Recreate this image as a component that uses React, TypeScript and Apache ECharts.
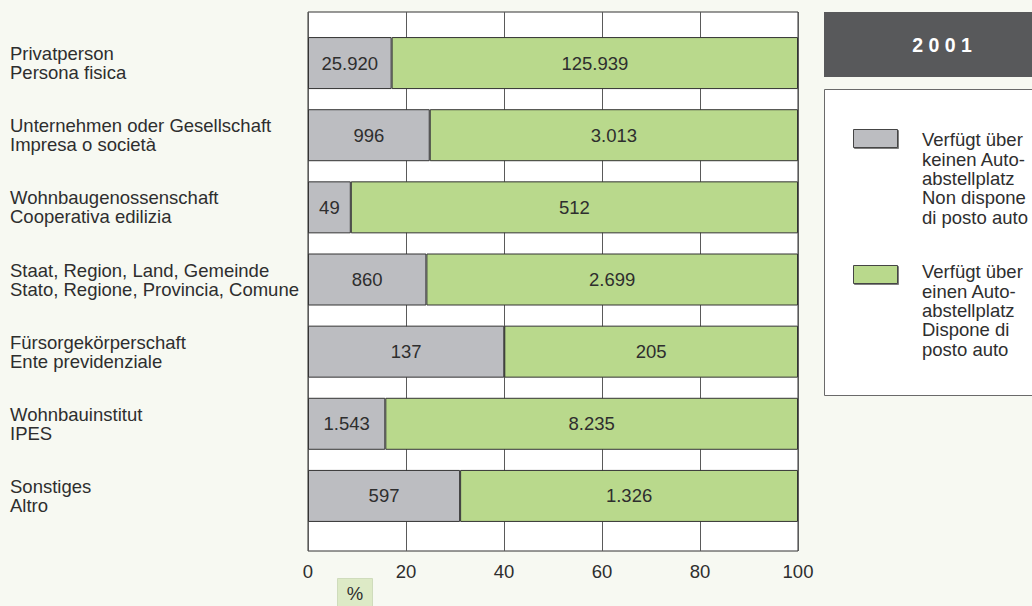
import React, { useEffect, useRef } from "react";
import * as echarts from "echarts";

const categories = [
  "Privatperson\nPersona fisica",
  "Unternehmen oder Gesellschaft\nImpresa o società",
  "Wohnbaugenossenschaft\nCooperativa edilizia",
  "Staat, Region, Land, Gemeinde\nStato, Regione, Provincia, Comune",
  "Fürsorgekörperschaft\nEnte previdenziale",
  "Wohnbauinstitut\nIPES",
  "Sonstiges\nAltro",
];
const withoutParking = [25920, 996, 49, 860, 137, 1543, 597];
const withParking = [125939, 3013, 512, 2699, 205, 8235, 1326];
const xTicks = [0, 20, 40, 60, 80, 100];
const seriesNames = [
  "Verfügt über\nkeinen Auto-\nabstellplatz\nNon dispone\ndi posto auto",
  "Verfügt über\neinen Auto-\nabstellplatz\nDispone di\nposto auto",
];
const yearLabel = "2 0 0 1";
const unitLabel = "%";

const GREY = "#bcbdc1";
const GREEN = "#b9d98c";
const TEXT = "#2e2e2e";
const FONT = "'Liberation Sans', Arial, Helvetica, sans-serif";
const FS = 18.5;

const fmt = (v: number) => String(v).replace(/\B(?=(\d{3})+(?!\d))/g, ".");

export default function App() {
  const ref = useRef<HTMLDivElement>(null);
  useEffect(() => {
    if (!ref.current) return;
    const chart = echarts.init(ref.current, null, { renderer: "svg" });
    const totals = withoutParking.map((v, i) => v + withParking[i]);
    const pctA = withoutParking.map((v, i) => (v / totals[i]) * 100);
    const pctB = withParking.map((v, i) => (v / totals[i]) * 100);
    const labelCommon = {
      show: true,
      position: "inside" as const,
      fontSize: FS,
      color: TEXT,
      fontFamily: FONT,
    };
    chart.setOption({
      animation: false,
      backgroundColor: "#f7f9f2",
      textStyle: { fontFamily: FONT },
      grid: [
        {
          left: 308,
          top: 12,
          width: 490,
          height: 539,
          show: true,
          backgroundColor: "#ffffff",
          borderColor: "#333333",
          borderWidth: 1,
        },
        { left: 308, top: 27, width: 490, height: 505 },
      ],
      xAxis: [
        {
          gridIndex: 0,
          type: "value",
          min: xTicks[0],
          max: xTicks[xTicks.length - 1],
          interval: 20,
          axisLine: { show: false },
          axisTick: { show: false },
          splitLine: { show: true, lineStyle: { color: "#5a5a5a", width: 1 } },
          axisLabel: { fontSize: FS, color: TEXT, margin: 11, fontFamily: FONT },
        },
        {
          gridIndex: 1,
          type: "value",
          min: 0,
          max: 100,
          show: false,
        },
      ],
      yAxis: [
        { gridIndex: 0, type: "value", show: false },
        {
          gridIndex: 1,
          type: "category",
          inverse: true,
          data: categories,
          axisLine: { show: false },
          axisTick: { show: false },
          axisLabel: {
            align: "left",
            margin: 298,
            fontSize: FS,
            lineHeight: 19,
            color: TEXT,
            fontFamily: FONT,
          },
        },
      ],
      series: [
        {
          name: seriesNames[0],
          type: "bar",
          xAxisIndex: 1,
          yAxisIndex: 1,
          stack: "total",
          barWidth: 52,
          data: pctA,
          itemStyle: { color: GREY, borderColor: "#333333", borderWidth: 1 },
          label: { ...labelCommon, formatter: (p: any) => fmt(withoutParking[p.dataIndex]) },
        },
        {
          name: seriesNames[1],
          type: "bar",
          xAxisIndex: 1,
          yAxisIndex: 1,
          stack: "total",
          barWidth: 52,
          data: pctB,
          itemStyle: { color: GREEN, borderColor: "#333333", borderWidth: 1 },
          label: { ...labelCommon, formatter: (p: any) => fmt(withParking[p.dataIndex]) },
        },
      ],
      graphic: [
        {
          type: "rect",
          shape: { x: 824, y: 12, width: 230, height: 65 },
          style: { fill: "#58595b" },
        },
        {
          type: "text",
          x: 942,
          y: 45,
          style: {
            text: yearLabel,
            fill: "#ffffff",
            font: `bold 19.5px ${FONT}`,
            align: "center",
            verticalAlign: "middle",
          },
        },
        {
          type: "rect",
          shape: { x: 824.5, y: 89.5, width: 230, height: 306 },
          style: { fill: "#ffffff", stroke: "#6a6a6a", lineWidth: 1 },
        },
        {
          type: "rect",
          shape: { x: 853.5, y: 129.5, width: 44, height: 18 },
          style: {
            fill: GREY,
            stroke: "#444444",
            lineWidth: 1,
            shadowColor: "rgba(0,0,0,0.5)",
            shadowOffsetX: 1,
            shadowOffsetY: 1,
          },
        },
        {
          type: "text",
          x: 922,
          y: 130,
          style: {
            text: seriesNames[0],
            fill: TEXT,
            font: `${FS}px ${FONT}`,
            lineHeight: 19.4,
            align: "left",
            verticalAlign: "top",
          },
        },
        {
          type: "rect",
          shape: { x: 853.5, y: 265.5, width: 44, height: 18 },
          style: {
            fill: GREEN,
            stroke: "#444444",
            lineWidth: 1,
            shadowColor: "rgba(0,0,0,0.5)",
            shadowOffsetX: 1,
            shadowOffsetY: 1,
          },
        },
        {
          type: "text",
          x: 922,
          y: 262,
          style: {
            text: seriesNames[1],
            fill: TEXT,
            font: `${FS}px ${FONT}`,
            lineHeight: 19.4,
            align: "left",
            verticalAlign: "top",
          },
        },
        {
          type: "rect",
          shape: { x: 337.5, y: 578.5, width: 35, height: 30 },
          style: { fill: "#ddeac6", stroke: "#cfdcbc", lineWidth: 1 },
        },
        {
          type: "text",
          x: 355,
          y: 593,
          style: {
            text: unitLabel,
            fill: TEXT,
            font: `${FS}px ${FONT}`,
            align: "center",
            verticalAlign: "middle",
          },
        },
      ],
    });
    return () => chart.dispose();
  }, []);
  return (
    <div
      ref={ref}
      style={{ position: "absolute", left: 0, top: 0, width: 1032, height: 606 }}
    />
  );
}
